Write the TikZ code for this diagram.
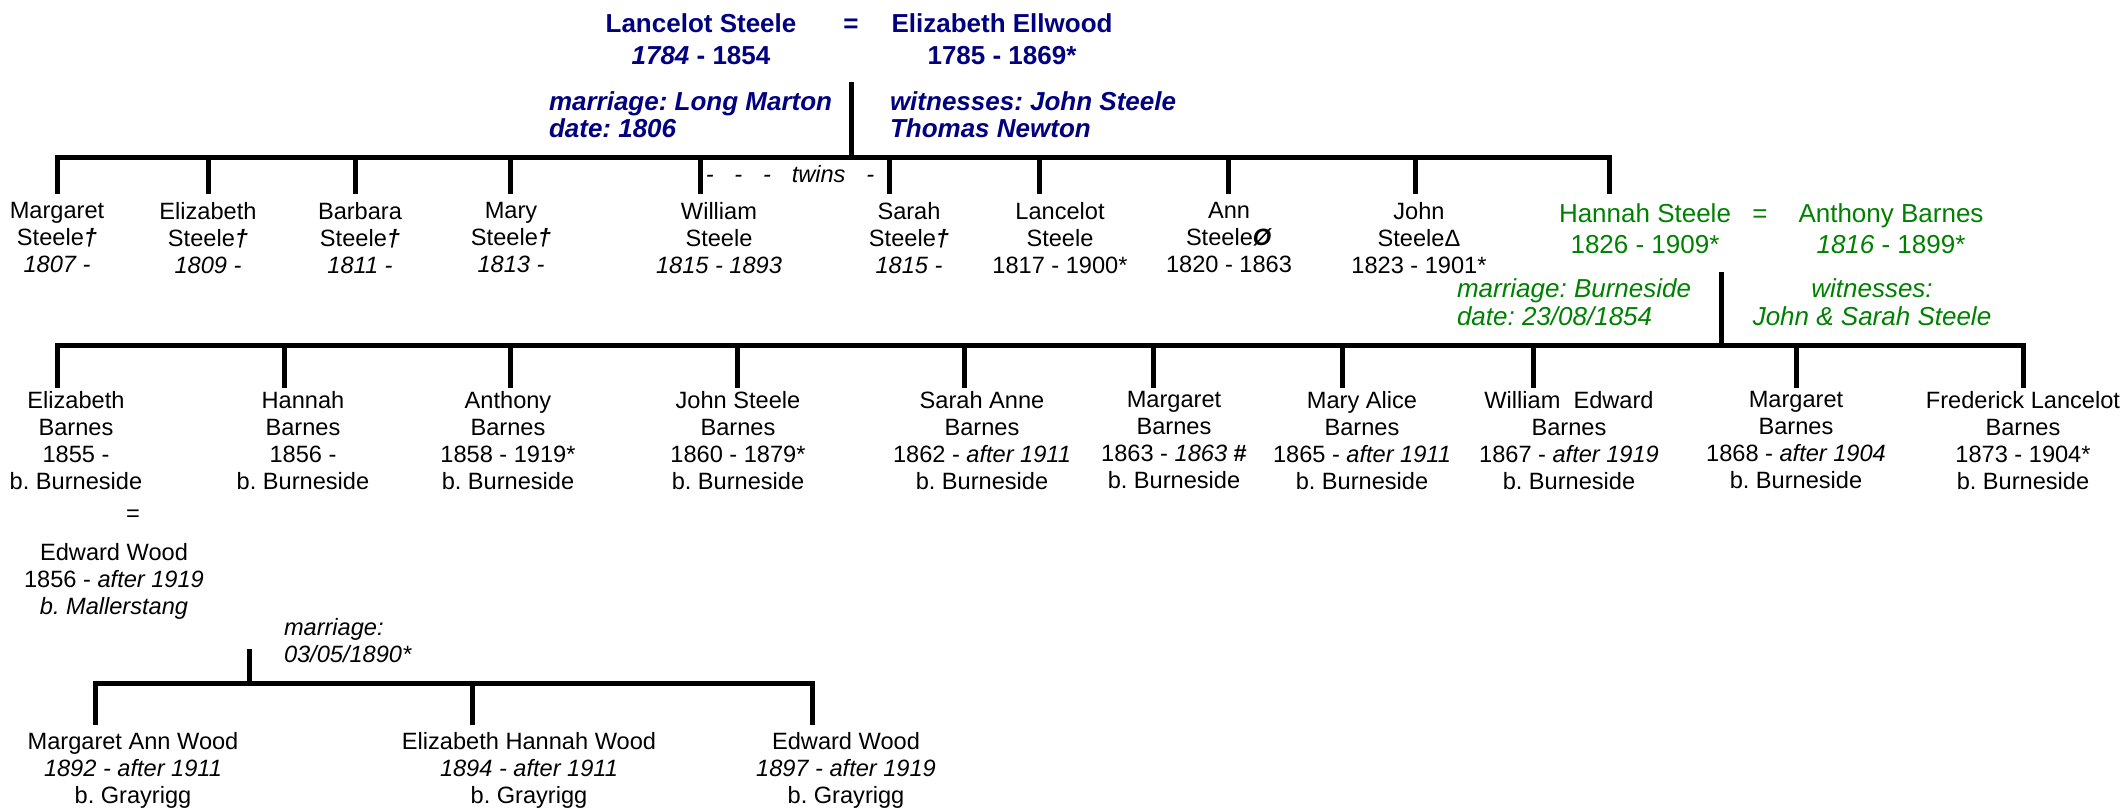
\documentclass[tikz,border=0pt]{standalone}
\usepackage{fontspec}
\setmainfont{Liberation Sans}
\definecolor{navyc}{RGB}{0,0,128}
\definecolor{greenc}{RGB}{0,128,0}
\newcommand{\mydagger}{\textbf{\textit{†}}}
\frenchspacing
\begin{document}
\begin{tikzpicture}[x=0.5pt,y=-0.5pt,
  every node/.style={inner sep=0pt,outer sep=0pt},
  person/.style={font=\fontsize{11.8}{13.6}\selectfont, align=center, anchor=north},
  topcouple/.style={font=\fontsize{13}{16}\selectfont\bfseries, text=navyc, align=center, anchor=north},
  topnote/.style={font=\fontsize{13}{13.5}\selectfont\bfseries\itshape, text=navyc, align=left, anchor=north west},
  grcouple/.style={font=\fontsize{13}{15.5}\selectfont, text=greenc, align=center, anchor=north},
  grnote/.style={font=\fontsize{13}{14}\selectfont\itshape, text=greenc, anchor=north},
  smallnote/.style={font=\fontsize{11.8}{13.6}\selectfont\itshape, align=left, anchor=north west},
  bar/.style={line width=2.5pt, line cap=rect},
  drop/.style={line width=2.5pt}
]
\useasboundingbox (0,0) rectangle (2127,810);

% ---------- top couple ----------
\node[topcouple] (ls) at (701,13.4) {Lancelot Steele\\\textit{1784} - 1854};
\node[font=\fontsize{13}{16}\selectfont\bfseries, text=navyc, anchor=base] (eq1) at (851,32) {=};
\node[topcouple] (ee) at (1002,13.4) {Elizabeth Ellwood\\1785 - 1869*};
\node[topnote] (m1) at (549,91.4) {marriage: Long Marton\\date: 1806};
\node[topnote] (w1) at (890,91.4) {witnesses: John Steele\\Thomas Newton};

\coordinate (p1) at (851,82);
\coordinate (b1) at (851,157);
\coordinate (b1l) at (57,157);
\coordinate (b1r) at (1609,157);
\draw[drop] (p1) -- (b1);
\draw[bar] (b1l) -- (b1r);

% ---------- generation 1 ----------
\node[person] (g1a) at (57,202) {Margaret\\Steele\mydagger\\\textit{1807 -}};
\node[person] (g1b) at (208,202) {Elizabeth\\Steele\mydagger\\\textit{1809 -}};
\node[person] (g1c) at (360,202) {Barbara\\Steele\mydagger\\\textit{1811 -}};
\node[person] (g1d) at (511,202) {Mary\\Steele\mydagger\\\textit{1813 -}};
\node[person] (g1e) at (719,202) {William\\Steele\\\textit{1815 - 1893}};
\node[person] (g1f) at (909,202) {Sarah\\Steele\mydagger\\\textit{1815 -}};
\node[person] (g1g) at (1060,202) {Lancelot\\Steele\\1817 - 1900*};
\node[person] (g1h) at (1229,202) {Ann\\Steele\textbf{\textit{Ø}}\\1820 - 1863};
\node[person] (g1i) at (1419,202) {John\\SteeleΔ\\1823 - 1901*};
\node[font=\fontsize{11.8}{13.6}\selectfont\itshape, anchor=base] (twins) at (790,182)
  {-\hspace{10.4pt}-\hspace{10.4pt}-\hspace{10.4pt}twins\hspace{10.4pt}-};

\node[grcouple] (hs) at (1645,203.4) {Hannah Steele\\1826 - 1909*};
\node[font=\fontsize{13}{15.5}\selectfont, text=greenc, anchor=base] (eq2) at (1760,222) {=};
\node[grcouple] (ab) at (1891,203.4) {Anthony Barnes\\\textit{1816} - 1899*};
\node[grnote, anchor=north west, align=left] (m2) at (1457,278.4) {marriage: Burneside\\date: 23/08/1854};
\node[grnote, align=center] (w2) at (1872,278.4) {witnesses:\\John \& Sarah Steele};

\foreach \n/\x/\c in {1/57/g1a,2/208/g1b,3/355/g1c,4/510/g1d,5/700/g1e,6/889/g1f,7/1039/g1g,8/1228/g1h,9/1415/g1i}{
  \coordinate (d1\n) at (\x,157);
  \draw[drop, shorten >=4pt] (d1\n) -- (d1\n |- \c.north);
}
\coordinate (d110) at (1609,157);
\draw[drop, shorten >=4.7pt] (d110) -- (d110 |- hs.north);

% ---------- generation 2 ----------
\coordinate (p2) at (1721,272);
\coordinate (b2) at (1721,345);
\coordinate (b2l) at (57,345);
\coordinate (b2r) at (2023,345);
\draw[drop] (p2) -- (b2);
\draw[bar] (b2l) -- (b2r);

\node[person] (g2a) at (76,391) {Elizabeth\\Barnes\\1855 -\\b. Burneside};
\node[person] (g2b) at (303,391) {Hannah\\Barnes\\1856 -\\b. Burneside};
\node[person] (g2c) at (508,391) {Anthony\\Barnes\\1858 - 1919*\\b. Burneside};
\node[person] (g2d) at (738,391) {John Steele\\Barnes\\1860 - 1879*\\b. Burneside};
\node[person] (g2e) at (982,391) {Sarah Anne\\Barnes\\1862 - \textit{after 1911}\\b. Burneside};
\node[person] (g2f) at (1174,391) {Margaret\\Barnes\\1863 - \textit{1863} \textbf{\#}\\b. Burneside};
\node[person] (g2g) at (1362,391) {Mary Alice\\Barnes\\1865 - \textit{after 1911}\\b. Burneside};
\node[person] (g2h) at (1569,391) {William\ \ Edward\\Barnes\\1867 - \textit{after 1919}\\b. Burneside};
\node[person] (g2i) at (1796,391) {Margaret\\Barnes\\1868 - \textit{after 1904}\\b. Burneside};
\node[person] (g2j) at (2023,391) {Frederick Lancelot\\Barnes\\1873 - 1904*\\b. Burneside};

\foreach \n/\x/\c in {1/57/g2a,2/284/g2b,3/510/g2c,4/737/g2d,5/964/g2e,6/1153/g2f,7/1342/g2g,8/1533/g2h,9/1796/g2i,10/2023/g2j}{
  \coordinate (d2\n) at (\x,345);
  \draw[drop, shorten >=1.5pt] (d2\n) -- (d2\n |- \c.north);
}

% ---------- Elizabeth Barnes = Edward Wood ----------
\node[font=\fontsize{11.8}{13.6}\selectfont, anchor=base] (eq3) at (133,521) {=};
\node[person] (ew) at (114,543) {Edward Wood\\1856 - \textit{after 1919}\\\textit{b. Mallerstang}};
\node[smallnote] (m3) at (284,618) {marriage:\\03/05/1890*};

\coordinate (p3) at (249,649);
\coordinate (b3) at (249,683);
\coordinate (b3l) at (95,683);
\coordinate (b3r) at (812,683);
\draw[drop] (p3) -- (b3);
\draw[bar] (b3l) -- (b3r);

% ---------- generation 3 ----------
\node[person] (g3a) at (133,732) {Margaret Ann Wood\\\textit{1892 - after 1911}\\b. Grayrigg};
\node[person] (g3b) at (529,732) {Elizabeth Hannah Wood\\\textit{1894 - after 1911}\\b. Grayrigg};
\node[person] (g3c) at (846,732) {Edward Wood\\\textit{1897 - after 1919}\\b. Grayrigg};

\foreach \n/\x/\c in {1/95/g3a,2/472/g3b,3/812/g3c}{
  \coordinate (d3\n) at (\x,683);
  \draw[drop, shorten >=3.5pt] (d3\n) -- (d3\n |- \c.north);
}
\end{tikzpicture}
\end{document}
